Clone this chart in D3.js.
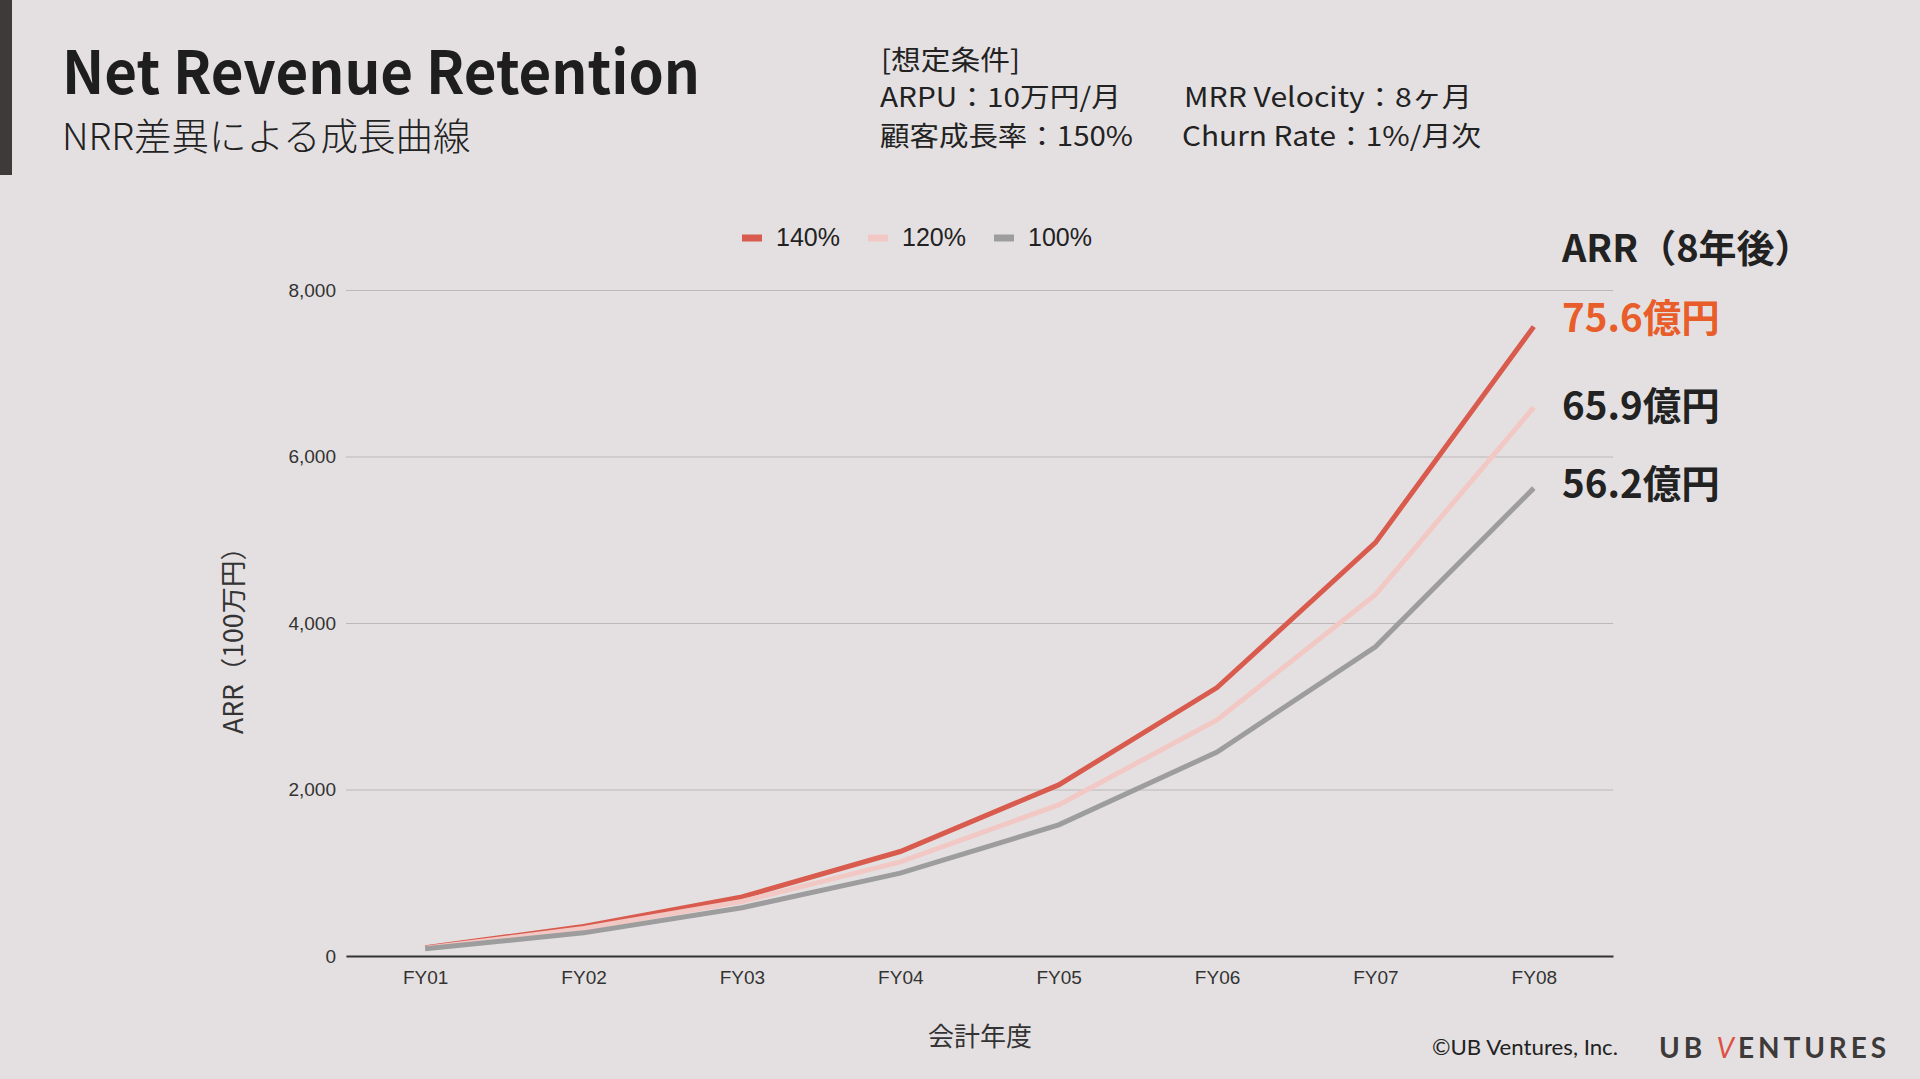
<!DOCTYPE html>
<html><head><meta charset="utf-8">
<script src="https://cdn.jsdelivr.net/npm/d3@7"></script>
<style>
html,body{margin:0;padding:0;background:#e4e0e1;overflow:hidden}
svg{display:block}
</style></head>
<body>
<svg id="c" width="1920" height="1079"></svg>
<script>
const categories = ["FY01","FY02","FY03","FY04","FY05","FY06","FY07","FY08"];
const seriesNames = ["140%","120%","100%"];
const nrr140 = [98, 355, 710, 1255, 2055, 3225, 4965, 7560];
const nrr120 = [94, 330, 655, 1130, 1815, 2835, 4340, 6590];
const nrr100 = [88, 278, 580, 995, 1575, 2450, 3715, 5620];
const yTicks = [0, 2000, 4000, 6000, 8000];
const endLabels = ["75.6億円","65.9億円","56.2億円"];
const colors = ["#d95b4e","#f2c8c4","#9d9d9d"];

const svg = d3.select("#c");
svg.append("rect").attr("width",1920).attr("height",1079).attr("fill","#e4e0e1");
svg.append("rect").attr("x",0).attr("y",0).attr("width",12).attr("height",175).attr("fill","#3d3a39");

const CJK = "'Noto Sans CJK JP','Noto Sans',sans-serif";
const ARIAL = "'Liberation Sans',Arial,sans-serif";

svg.append("text").attr("x",62).attr("y",94).attr("font-family",CJK).attr("font-weight",700)
  .attr("font-size",59).attr("fill","#1e1e1e").attr("textLength",638).attr("lengthAdjust","spacingAndGlyphs")
  .text("Net Revenue Retention");
svg.append("text").attr("x",62).attr("y",150).attr("font-family",CJK).attr("font-weight",300)
  .attr("font-size",37.5).attr("fill","#222").text("NRR差異による成長曲線");

// conditions block
const condTexts = [
  {t:"[想定条件]", x:881, y:70, w:139},
  {t:"ARPU：10万円/月", x:880, y:107, w:241},
  {t:"顧客成長率：150%", x:880, y:146, w:253},
  {t:"MRR Velocity：8ヶ月", x:1184, y:107, w:288},
  {t:"Churn Rate：1%/月次", x:1182, y:146, w:299}
];
const cond = svg.append("g").attr("font-family",CJK).attr("font-size",27).attr("fill","#222").attr("font-weight",400);
condTexts.forEach(c=>{
  cond.append("text").attr("x",c.x).attr("y",c.y).attr("textLength",c.w).attr("lengthAdjust","spacingAndGlyphs").text(c.t);
});

const left = 346, right = 1613;
const x = d3.scalePoint().domain(categories).range([left, right]).padding(0.5);
const y = d3.scaleLinear().domain([0, 8000]).range([956, 290]);

const yAxis = svg.append("g").attr("transform",`translate(${left},0)`)
  .call(d3.axisLeft(y).tickValues(yTicks).tickFormat(d3.format(",")).tickSizeInner(-(right-left)).tickSizeOuter(0).tickPadding(10));
yAxis.select(".domain").remove();
yAxis.selectAll("line").attr("stroke","#bcb8b8").attr("stroke-width",1.2);
yAxis.selectAll("text").attr("font-family",ARIAL).attr("font-size",19).attr("fill","#333");

const xAxis = svg.append("g").attr("transform",`translate(0,${y(0)})`)
  .call(d3.axisBottom(x).tickSize(0).tickPadding(14.5));
xAxis.select(".domain").attr("stroke","#333").attr("stroke-width",2);
xAxis.selectAll("text").attr("font-family",ARIAL).attr("font-size",19).attr("fill","#333");

svg.append("text").attr("transform","translate(243,634) rotate(-90)").attr("text-anchor","middle")
  .attr("font-family",CJK).attr("font-size",26.5).attr("fill","#333").text("ARR（100万円）");
svg.append("text").attr("x",980).attr("y",1046).attr("text-anchor","middle")
  .attr("font-family",CJK).attr("font-size",26).attr("fill","#333").text("会計年度");

const series = [nrr140, nrr120, nrr100];
const line = d3.line().x((d,i)=>x(categories[i])).y(d=>y(d));
series.forEach((s,k)=>{
  svg.append("path").datum(s).attr("d",line).attr("fill","none")
    .attr("stroke",colors[k]).attr("stroke-width",5).attr("stroke-linejoin","miter");
});

// legend
const legX = [742, 868, 994];
seriesNames.forEach((n,k)=>{
  svg.append("rect").attr("x",legX[k]).attr("y",234.5).attr("width",20).attr("height",7).attr("fill",colors[k]);
  svg.append("text").attr("x",legX[k]+34).attr("y",246).attr("font-family",ARIAL).attr("font-size",25)
    .attr("fill","#222").text(n);
});

// right annotations
svg.append("text").attr("x",1562).attr("y",262).attr("font-family",CJK).attr("font-weight",700)
  .attr("font-size",38).attr("fill","#222").text("ARR（8年後）");
const labY = [332, 420, 498];
const labC = ["#e85d2a","#222","#222"];
endLabels.forEach((t,k)=>{
  svg.append("text").attr("x",1562).attr("y",labY[k]).attr("font-family",CJK).attr("font-weight",700)
    .attr("font-size",38.5).attr("fill",labC[k]).text(t);
});

// footer
svg.append("text").attr("x",1432).attr("y",1055).attr("font-family","'Lato','Open Sans',sans-serif")
  .attr("font-size",22).attr("fill","#222").attr("textLength",186).attr("lengthAdjust","spacingAndGlyphs").text("©UB Ventures, Inc.");
const logo = svg.append("text").attr("x",1659).attr("y",1058).attr("font-family","'Lato','Open Sans',sans-serif")
  .attr("font-weight",700).attr("font-size",28).attr("fill","#3d3a39").attr("textLength",227).attr("lengthAdjust","spacing");
logo.append("tspan").text("UB ");
logo.append("tspan").attr("fill","#dd5045").attr("font-style","italic").attr("font-weight",400).text("V");
logo.append("tspan").text("ENTURES");
</script>
</body></html>
